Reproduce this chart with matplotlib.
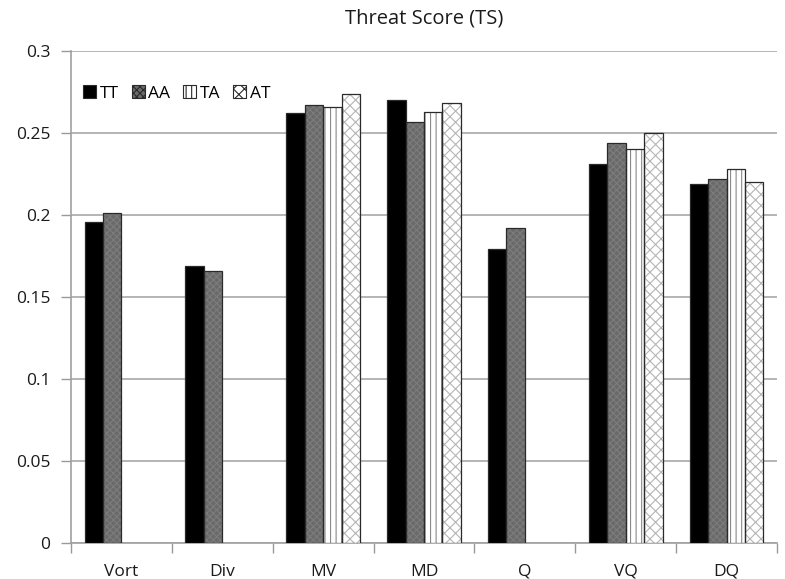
import numpy as np
import matplotlib
matplotlib.use("Agg")
import matplotlib.pyplot as plt
from matplotlib.patches import Patch

categories = ["Vort", "Div", "MV", "MD", "Q", "VQ", "DQ"]
series_names = ["TT", "AA", "TA", "AT"]
tt = [0.196, 0.169, 0.262, 0.270, 0.179, 0.231, 0.219]
aa = [0.201, 0.166, 0.267, 0.257, 0.192, 0.244, 0.222]
ta = [np.nan, np.nan, 0.266, 0.263, np.nan, 0.240, 0.228]
at = [np.nan, np.nan, 0.274, 0.268, np.nan, 0.250, 0.220]
yticks = [0, 0.05, 0.1, 0.15, 0.2, 0.25, 0.3]
ytick_labels = ["0", "0.05", "0.1", "0.15", "0.2", "0.25", "0.3"]

plt.rcParams['font.family'] = ['Open Sans', 'DejaVu Sans']
plt.rcParams['hatch.linewidth'] = 0.8

fig = plt.figure(figsize=(7.85, 5.79), dpi=100)
ax = fig.add_axes([71/785, 1 - 543/579, (777 - 71)/785, (543 - 51)/579])

styles = [
    dict(face="#000000", hatch=None, hcolor="#000000"),
    dict(face="#6a6a6a", hatch="xxxxx", hcolor="#7c7c7c"),
    dict(face="#ffffff", hatch="|||", hcolor="#8a8a8a"),
    dict(face="#ffffff", hatch="xxx", hcolor="#b5b5b5"),
]
data = [tt, aa, ta, at]
x = np.arange(len(categories))
w = 0.183
offs = (np.arange(4) - 1.5) * w
handles = []
for i, (vals, st) in enumerate(zip(data, styles)):
    v = np.array(vals, dtype=float)
    ax.bar(x + offs[i], v, w, color=st["face"], edgecolor=st["hcolor"],
           hatch=st["hatch"], linewidth=0, zorder=3)
    ax.bar(x + offs[i], v, w, fill=False, edgecolor="#2a2a2a",
           linewidth=0.9, zorder=4)
    handles.append(Patch(facecolor=st["face"], edgecolor="#2a2a2a",
                         hatch=st["hatch"], linewidth=0.8))

tc = "#1a1a1a"
ax.set_xlim(-0.5, len(categories) - 0.5)
ax.set_ylim(0, 0.3)
ax.set_yticks(yticks)
ax.set_yticklabels(ytick_labels, fontsize=12.5, color=tc)
ax.set_xticks(x)
ax.set_xticklabels(categories, fontsize=12.5, color=tc)
ax.tick_params(axis='x', length=0, pad=15)
ax.set_xticks(np.arange(len(categories) + 1) - 0.5, minor=True)
ax.tick_params(axis='x', which='minor', length=7, color="#999999", width=1)
ax.tick_params(axis='y', length=7, color="#999999", width=1, pad=8)

ax.grid(axis='y', color="#a8a8a8", linewidth=1.2, zorder=0)
for s in ["top", "right"]:
    ax.spines[s].set_visible(False)
for s in ["left", "bottom"]:
    ax.spines[s].set_color("#a0a0a0")
    ax.spines[s].set_linewidth(1.2)

ax.set_title("Threat Score (TS)", fontsize=14.5, color=tc, pad=20)

leg = ax.legend(handles, series_names, loc="upper left", ncol=4, frameon=False,
                bbox_to_anchor=(0.0, 0.955), fontsize=12.5, handlelength=0.75,
                handleheight=0.75, handletextpad=0.2, columnspacing=0.75,
                borderaxespad=0.3)

fig.savefig("out.png", dpi=100)
